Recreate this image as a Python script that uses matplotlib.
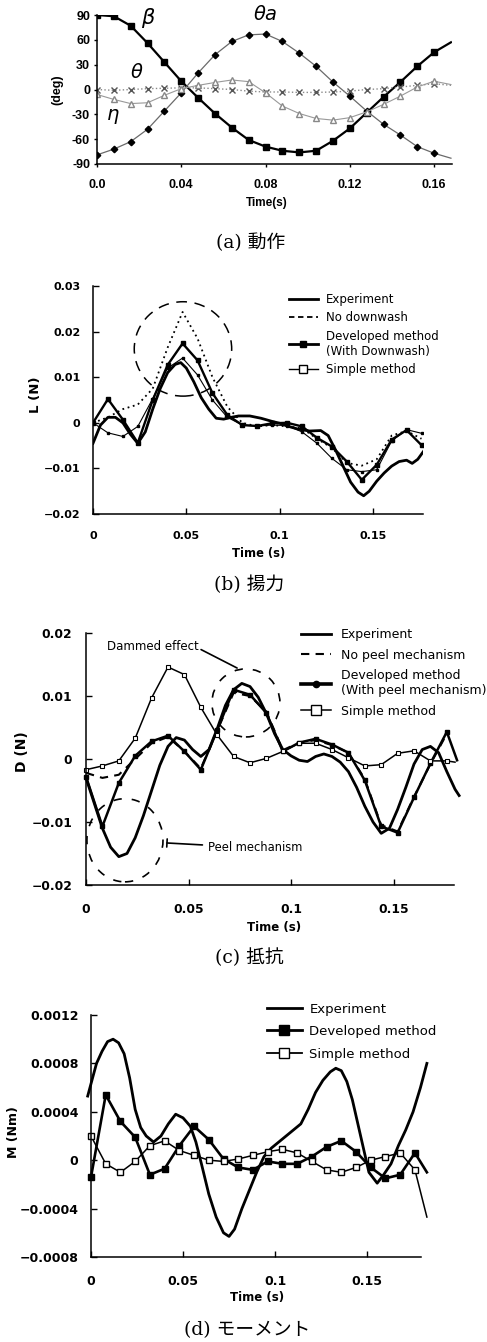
import matplotlib
matplotlib.use('Agg')
import matplotlib.pyplot as plt
from matplotlib.patches import Ellipse
from matplotlib.lines import Line2D
import numpy as np

# ---------------- data ----------------
# (a) motion, sampled every 0.008 s
t_a = [0.0, 0.008, 0.016, 0.024, 0.032, 0.040, 0.048, 0.056, 0.064, 0.072, 0.080,
       0.088, 0.096, 0.104, 0.112, 0.120, 0.128, 0.136, 0.144, 0.152, 0.160, 0.168]
beta = [90, 88.5, 77, 56, 33, 10, -10, -29, -46, -61, -69, -74, -76, -74, -62, -47,
        -28, -9, 9, 28, 45, 57]
theta_a = [-79, -72, -63, -48, -26, -4, 20, 42, 58, 66, 67, 58, 44, 28, 9, -8,
           -26, -42, -55, -69, -77, -83]
theta = [0, -1, 0, 1, 1.5, 2, 2, 1, 0, -2, -3, -3, -3.5, -3.5, -3, -2, 0, 1, 3, 5, 7, 5]
eta = [-6, -12, -17, -16, -7, 1, 5, 8.5, 11.5, 9.5, -4, -20, -29, -35, -37, -34,
       -27, -18, -8, 3, 10, 6]

# (b), (c), (d) model results, sampled every 0.008 s
t_m = [0.0, 0.008, 0.016, 0.024, 0.032, 0.040, 0.048, 0.056, 0.064, 0.072, 0.080,
       0.088, 0.096, 0.104, 0.112, 0.120, 0.128, 0.136, 0.144, 0.152, 0.160, 0.168, 0.176]

# (b) lift
lift_dev = [0, 0.0052, 0.0007, -0.0044, 0.005, 0.0127, 0.0174, 0.0137, 0.0065, 0.0017,
            -0.0005, -0.0007, -0.0001, 0, -0.0008, -0.0033, -0.0052, -0.0085, -0.0125,
            -0.0092, -0.0037, -0.0016, -0.0049]
lift_nodw = [0, 0.0012, 0.003, 0.004, 0.0075, 0.0165, 0.0243, 0.0185, 0.010, 0.0035,
             0.0, -0.0008, -0.0005, -0.0008, -0.0012, -0.0035, -0.0055, -0.0088, -0.0094,
             -0.008, -0.0028, -0.0018, -0.0035]
lift_simple = [0, -0.0022, -0.003, -0.0008, 0.0053, 0.012, 0.0142, 0.0105, 0.005, 0.0012,
               -0.0005, -0.0007, -0.0005, -0.0006, -0.002, -0.0045, -0.0078, -0.0103,
               -0.0107, -0.0103, -0.004, -0.0015, -0.0023]
t_lexp = [0.0, 0.004, 0.008, 0.012, 0.016, 0.020, 0.024, 0.028, 0.032, 0.036, 0.040,
          0.044, 0.047, 0.050, 0.054, 0.058, 0.062, 0.066, 0.070, 0.074, 0.078, 0.084,
          0.090, 0.096, 0.100, 0.104, 0.110, 0.116, 0.122, 0.126, 0.130, 0.134, 0.138,
          0.142, 0.145, 0.148, 0.152, 0.156, 0.160, 0.164, 0.168, 0.171, 0.174, 0.177]
lift_exp = [-0.0045, -0.0005, 0.0012, 0.0012, 0.0, -0.0025, -0.0045, -0.002, 0.003,
            0.0075, 0.011, 0.0128, 0.0132, 0.012, 0.009, 0.0055, 0.003, 0.001, 0.0008,
            0.0012, 0.0015, 0.0015, 0.001, 0.0003, -0.0001, -0.0007, -0.0014, -0.0018,
            -0.0017, -0.0028, -0.006, -0.0095, -0.013, -0.0152, -0.016, -0.015, -0.0128,
            -0.011, -0.0095, -0.0085, -0.0082, -0.0089, -0.008, -0.0063]

# (c) drag
drag_dev = [-0.0028, -0.0107, -0.0038, 0.0005, 0.0028, 0.0037, 0.0012, -0.0017, 0.0046,
            0.011, 0.0102, 0.0073, 0.0012, 0.0026, 0.0032, 0.0023, 0.001, -0.0034, -0.0107,
            -0.0117, -0.0061, -0.0007, 0.0043]
drag_nopeel = [-0.0022, -0.003, -0.0025, 0.0, 0.0025, 0.0035, 0.0012, -0.0015, 0.0045,
               0.0105, 0.010, 0.0075, 0.0014, 0.0026, 0.003, 0.0022, 0.001, -0.0032,
               -0.0105, -0.0115, -0.006, -0.0008, 0.004]
drag_simple = [-0.0017, -0.0011, -0.0003, 0.0033, 0.0097, 0.0146, 0.0134, 0.0082, 0.0038,
               0.0004, -0.0006, 0.0001, 0.0012, 0.0025, 0.0025, 0.0015, 0.0002, -0.0011,
               -0.0009, 0.0009, 0.0013, -0.0003, -0.0003]
t_dexp = [0.0, 0.004, 0.008, 0.012, 0.016, 0.020, 0.024, 0.028, 0.032, 0.036, 0.040,
          0.044, 0.048, 0.052, 0.056, 0.060, 0.064, 0.068, 0.072, 0.076, 0.080, 0.084,
          0.088, 0.092, 0.096, 0.100, 0.104, 0.108, 0.112, 0.116, 0.120, 0.124, 0.128,
          0.132, 0.136, 0.140, 0.144, 0.148, 0.152, 0.156, 0.160, 0.164, 0.168, 0.172,
          0.176, 0.180, 0.182]
drag_exp = [-0.003, -0.007, -0.011, -0.014, -0.0155, -0.015, -0.0125, -0.009, -0.005,
            -0.001, 0.002, 0.0034, 0.003, 0.0015, 0.0004, 0.0015, 0.0048, 0.0085, 0.011,
            0.012, 0.0115, 0.0098, 0.0072, 0.004, 0.0015, 0.0005, -0.0002, -0.0004, 0.0004,
            0.0008, 0.0004, -0.0005, -0.002, -0.0045, -0.0075, -0.010, -0.0118, -0.011,
            -0.008, -0.0045, -0.0008, 0.0015, 0.002, 0.001, -0.002, -0.0048, -0.0058]

# (d) moment
mom_dev = [-0.00014, 0.00054, 0.00032, 0.00019, -0.00012, -0.00007, 0.00012, 0.00028,
           0.00017, 0.00001, -0.00006, -0.00008, -0.00001, -0.00003, -0.00003, 0.00003,
           0.00011, 0.00016, 0.00007, -0.00006, -0.00015, -0.00012, 0.00006]
mom_simple = [0.0002, -0.00003, -0.0001, -0.00001, 0.00012, 0.00016, 0.00008, 0.00004,
              0.0, -0.00001, 0.00001, 0.00004, 0.00007, 0.00009, 0.00006, -0.00001,
              -0.00008, -0.0001, -0.00006, 0.0, 0.00003, 0.00006, -0.00008]
t_end_d = 0.1825
mom_dev_end = -0.0001
mom_simple_end = -0.00047
t_mexp = [-0.0018, 0.0005, 0.003, 0.006, 0.009, 0.012, 0.015, 0.018, 0.021, 0.024, 0.027,
          0.030, 0.034, 0.038, 0.042, 0.046, 0.050, 0.054, 0.057, 0.060, 0.064, 0.068,
          0.072, 0.075, 0.078, 0.082, 0.086, 0.090, 0.094, 0.098, 0.102, 0.106, 0.110,
          0.114, 0.118, 0.122, 0.126, 0.130, 0.133, 0.136, 0.139, 0.142, 0.145, 0.148,
          0.151, 0.1555, 0.159, 0.163, 0.167, 0.171, 0.175, 0.179, 0.1825]
mom_exp = [0.00053, 0.00066, 0.0008, 0.0009, 0.00098, 0.001, 0.00097, 0.00088, 0.00068,
           0.00042, 0.00027, 0.0002, 0.00015, 0.0002, 0.0003, 0.00038, 0.00035, 0.00028,
           0.00015, -0.00003, -0.00028, -0.00047, -0.0006, -0.00063, -0.00057, -0.0004,
           -0.00025, -0.0001, 0.00003, 0.0001, 0.00015, 0.0002, 0.00025, 0.0003, 0.00042,
           0.00056, 0.00066, 0.00073, 0.00076, 0.00074, 0.00065, 0.0005, 0.0003, 0.0001,
           -0.0001, -0.00019, -0.00012, -0.00003, 0.00012, 0.00025, 0.0004, 0.0006, 0.0008]

# ---------------- figure ----------------
W, H = 487, 1342
fig = plt.figure(figsize=(W / 100, H / 100), dpi=100)

def px_axes(l, t, r, b):
    return fig.add_axes([l / W, 1 - b / H, (r - l) / W, (b - t) / H])

def ftext(x, y, s, **kw):
    fig.text(x / W, 1 - y / H, s, ha='center', va='center', **kw)

cap_font = ['DejaVu Serif', 'Noto Sans CJK JP']

def style(ax, xpad, ypad, size):
    for s in ['top', 'right']:
        ax.spines[s].set_visible(False)
    for s in ['left', 'bottom']:
        ax.spines[s].set_linewidth(1.1)
    ax.tick_params(direction='in', length=4, width=1.0)
    ax.tick_params(axis='x', pad=xpad)
    ax.tick_params(axis='y', pad=ypad)
    for lab in ax.get_xticklabels() + ax.get_yticklabels():
        lab.set_fontsize(size)
        lab.set_fontweight('bold')

# ---- (a) ----
ax = px_axes(97, 15, 452, 164)
ax.plot(t_a, beta, color='k', lw=1.6, marker='s', ms=4.2, markevery=slice(0, 21))
ax.plot(t_a, theta_a, color='#6a6a6a', lw=0.9, marker='D', ms=3.3, mfc='k', mec='k',
        markevery=slice(0, 21))
ax.plot(t_a, theta, color='#8a8a8a', lw=1.0, ls=':', marker='x', ms=4, mec='#555',
        markevery=slice(0, 21))
ax.plot(t_a, eta, color='#999', lw=0.8, marker='^', ms=4, mfc='white', mec='#888',
        markevery=slice(0, 21))
ax.set_xlim(0, 0.1685)
ax.set_ylim(-90, 90)
ax.set_xticks([0, 0.04, 0.08, 0.12, 0.16])
ax.set_xticklabels(['0.0', '0.04', '0.08', '0.12', '0.16'], family='Liberation Sans')
ax.set_yticks([-90, -60, -30, 0, 30, 60, 90])
ax.set_yticklabels(['-90', '-60', '-30', '0', '30', '60', '90'], family='Liberation Sans')
style(ax, 9, 3, 9)
ax.tick_params(direction='out', length=2)
ax.text(0.0242, 86, r'$\beta$', fontsize=15, ha='center', va='center')
ax.text(0.0797, 90, r'$\theta a$', fontsize=14, ha='center', va='center')
ax.text(0.019, 20, r'$\theta$', fontsize=14, ha='center', va='center')
ax.text(0.0076, -33, r'$\eta$', fontsize=14, ha='center', va='center')
ftext(267, 203, 'Time(s)', family='Liberation Sans', weight='bold', fontsize=8.5)
ftext(57, 90, '(deg)', family='Liberation Sans', weight='bold', fontsize=9, rotation=90)
ftext(251, 243, '(a) 動作', family=cap_font, fontsize=13.5)

# ---- (b) ----
ax = px_axes(93, 286, 423, 514)
ax.plot(t_lexp, lift_exp, color='k', lw=2.0)
ax.plot(t_m, lift_nodw, color='k', lw=1.3, ls=(0, (1, 2)))
ax.plot(t_m, lift_dev, color='k', lw=1.7, marker='s', ms=2.8)
ax.plot(t_m, lift_simple, color='k', lw=0.8, marker='s', ms=2.0)
ax.add_patch(Ellipse((0.0482, 0.0162), 0.0522, 0.0207, fill=False, ec='k', lw=1.1,
                     ls=(0, (7, 5))))
ax.set_xlim(0, 0.1768)
ax.set_ylim(-0.02, 0.03)
ax.set_xticks([0, 0.05, 0.1, 0.15])
ax.set_xticklabels(['0', '0.05', '0.1', '0.15'])
ax.set_yticks([-0.02, -0.01, 0, 0.01, 0.02, 0.03])
ax.set_yticklabels(['\u22120.02', '\u22120.01', '0', '0.01', '0.02', '0.03'])
style(ax, 12, 9, 8)
hb = [Line2D([], [], color='k', lw=2.0),
      Line2D([], [], color='k', lw=1.3, ls=(0, (3, 2))),
      Line2D([], [], color='k', lw=2.0, marker='s', ms=5),
      Line2D([], [], color='k', lw=1.0, marker='s', ms=5.5, mfc='white')]
ax.legend(hb, ['Experiment', 'No downwash', 'Developed method\n(With Downwash)',
               'Simple method'],
          loc='upper left', bbox_to_anchor=(283 / W, 1 - 287 / H), bbox_transform=fig.transFigure,
          frameon=False, borderpad=0, handlelength=2.45, handletextpad=0.65,
          labelspacing=0.45, prop=dict(family='DejaVu Sans', size=8.5))
ftext(259, 553, 'Time (s)', weight='bold', fontsize=8.3)
ftext(36, 395, 'L (N)', weight='bold', fontsize=9.5, rotation=90)
ftext(249, 585, '(b) 揚力', family=cap_font, fontsize=13.5)

# ---- (c) ----
ax = px_axes(86, 633, 454, 885)
ax.plot(t_dexp, drag_exp, color='k', lw=2.0, clip_on=False)
ax.plot(t_m, drag_nopeel, color='k', lw=1.5, ls=(0, (4, 3)))
ax.plot(t_m + [0.181], drag_dev + [-0.0002], color='k', lw=1.8, marker='s', ms=2.8,
        markevery=slice(0, 23), clip_on=False)
ax.plot(t_m + [0.180], drag_simple + [-0.0005], color='k', lw=1.1, marker='s', ms=3.2,
        mfc='white', mew=0.8, markevery=slice(0, 23), clip_on=False)
ax.add_patch(Ellipse((0.078, 0.0089), 0.0332, 0.0108, fill=False, ec='k', lw=1.2,
                     ls=(0, (5, 6))))
ax.add_patch(Ellipse((0.019, -0.0129), 0.0371, 0.0132, fill=False, ec='k', lw=1.2,
                     ls=(0, (5, 6)), clip_on=False))
ax.annotate('Dammed effect', xy=(0.0737, 0.01444), xytext=(0.0324, 0.0178),
            ha='center', va='center', fontsize=8.5, family='DejaVu Sans',
            arrowprops=dict(arrowstyle='-', lw=1.2, color='k', shrinkA=0, shrinkB=0,
                            relpos=(1.0, 0.4)))
ax.annotate('Peel mechanism', xy=(0.0395, -0.01333), xytext=(0.0595, -0.0141),
            ha='left', va='center', fontsize=8.3, family='DejaVu Sans',
            arrowprops=dict(arrowstyle='-[, widthB=0.35, lengthB=0', lw=1.2, color='k',
                            shrinkA=2, shrinkB=0))
ax.set_xlim(0, 0.1795)
ax.set_ylim(-0.02, 0.02)
ax.set_xticks([0, 0.05, 0.1, 0.15])
ax.set_xticklabels(['0', '0.05', '0.1', '0.15'])
ax.set_yticks([-0.02, -0.01, 0, 0.01, 0.02])
ax.set_yticklabels(['\u22120.02', '\u22120.01', '0', '0.01', '0.02'])
style(ax, 13, 10, 8.8)
hc = [Line2D([], [], color='k', lw=2.0),
      Line2D([], [], color='k', lw=1.5, ls=(0, (4, 3))),
      Line2D([], [], color='k', lw=2.6, marker='o', ms=4.5),
      Line2D([], [], color='k', lw=1.1, marker='s', ms=6.5, mfc='white')]
ax.legend(hc, ['Experiment', 'No peel mechanism', 'Developed method\n(With peel mechanism)',
               'Simple method'],
          loc='upper left', bbox_to_anchor=(295 / W, 1 - 622 / H), bbox_transform=fig.transFigure,
          frameon=False, borderpad=0, handlelength=2.4, handletextpad=0.8,
          labelspacing=0.6, prop=dict(family='DejaVu Sans', size=9))
ftext(274, 927, 'Time (s)', weight='bold', fontsize=8.5)
ftext(22, 752, 'D (N)', weight='bold', fontsize=10, rotation=90)
ftext(249, 958, '(c) 抵抗', family=cap_font, fontsize=13.5)

# ---- (d) ----
ax = px_axes(91, 1015, 421, 1257)
ax.plot(t_mexp, mom_exp, color='k', lw=2.0, clip_on=False)
ax.plot(t_m + [t_end_d], mom_dev + [mom_dev_end], color='k', lw=1.9, marker='s', ms=4.5,
        markevery=slice(0, 23), clip_on=False)
ax.plot(t_m + [t_end_d], mom_simple + [mom_simple_end], color='k', lw=1.1, marker='s',
        ms=5, mfc='white', mew=1.0, markevery=slice(0, 23), clip_on=False)
ax.set_xlim(0, 0.1793)
ax.set_ylim(-0.0008, 0.0012)
ax.set_xticks([0, 0.05, 0.1, 0.15])
ax.set_xticklabels(['0', '0.05', '0.1', '0.15'])
ax.set_yticks([-0.0008, -0.0004, 0, 0.0004, 0.0008, 0.0012])
ax.set_yticklabels(['\u22120.0008', '\u22120.0004', '0', '0.0004', '0.0008', '0.0012'])
style(ax, 13, 9, 9)
hd = [Line2D([], [], color='k', lw=2.0),
      Line2D([], [], color='k', lw=2.0, marker='s', ms=6.5),
      Line2D([], [], color='k', lw=1.3, marker='s', ms=7, mfc='white')]
ax.legend(hd, ['Experiment', 'Developed method', 'Simple method'],
          loc='upper left', bbox_to_anchor=(260 / W, 1 - 996 / H), bbox_transform=fig.transFigure,
          frameon=False, borderpad=0, handlelength=2.65, handletextpad=0.6,
          labelspacing=0.72, prop=dict(family='DejaVu Sans', size=9.5))
ftext(257, 1297, 'Time (s)', weight='bold', fontsize=8.5)
ftext(13, 1132, 'M (Nm)', weight='bold', fontsize=9, rotation=90)
ftext(247, 1330, '(d) モーメント', family=cap_font, fontsize=13.5)

fig.savefig('out.png', dpi=100)
